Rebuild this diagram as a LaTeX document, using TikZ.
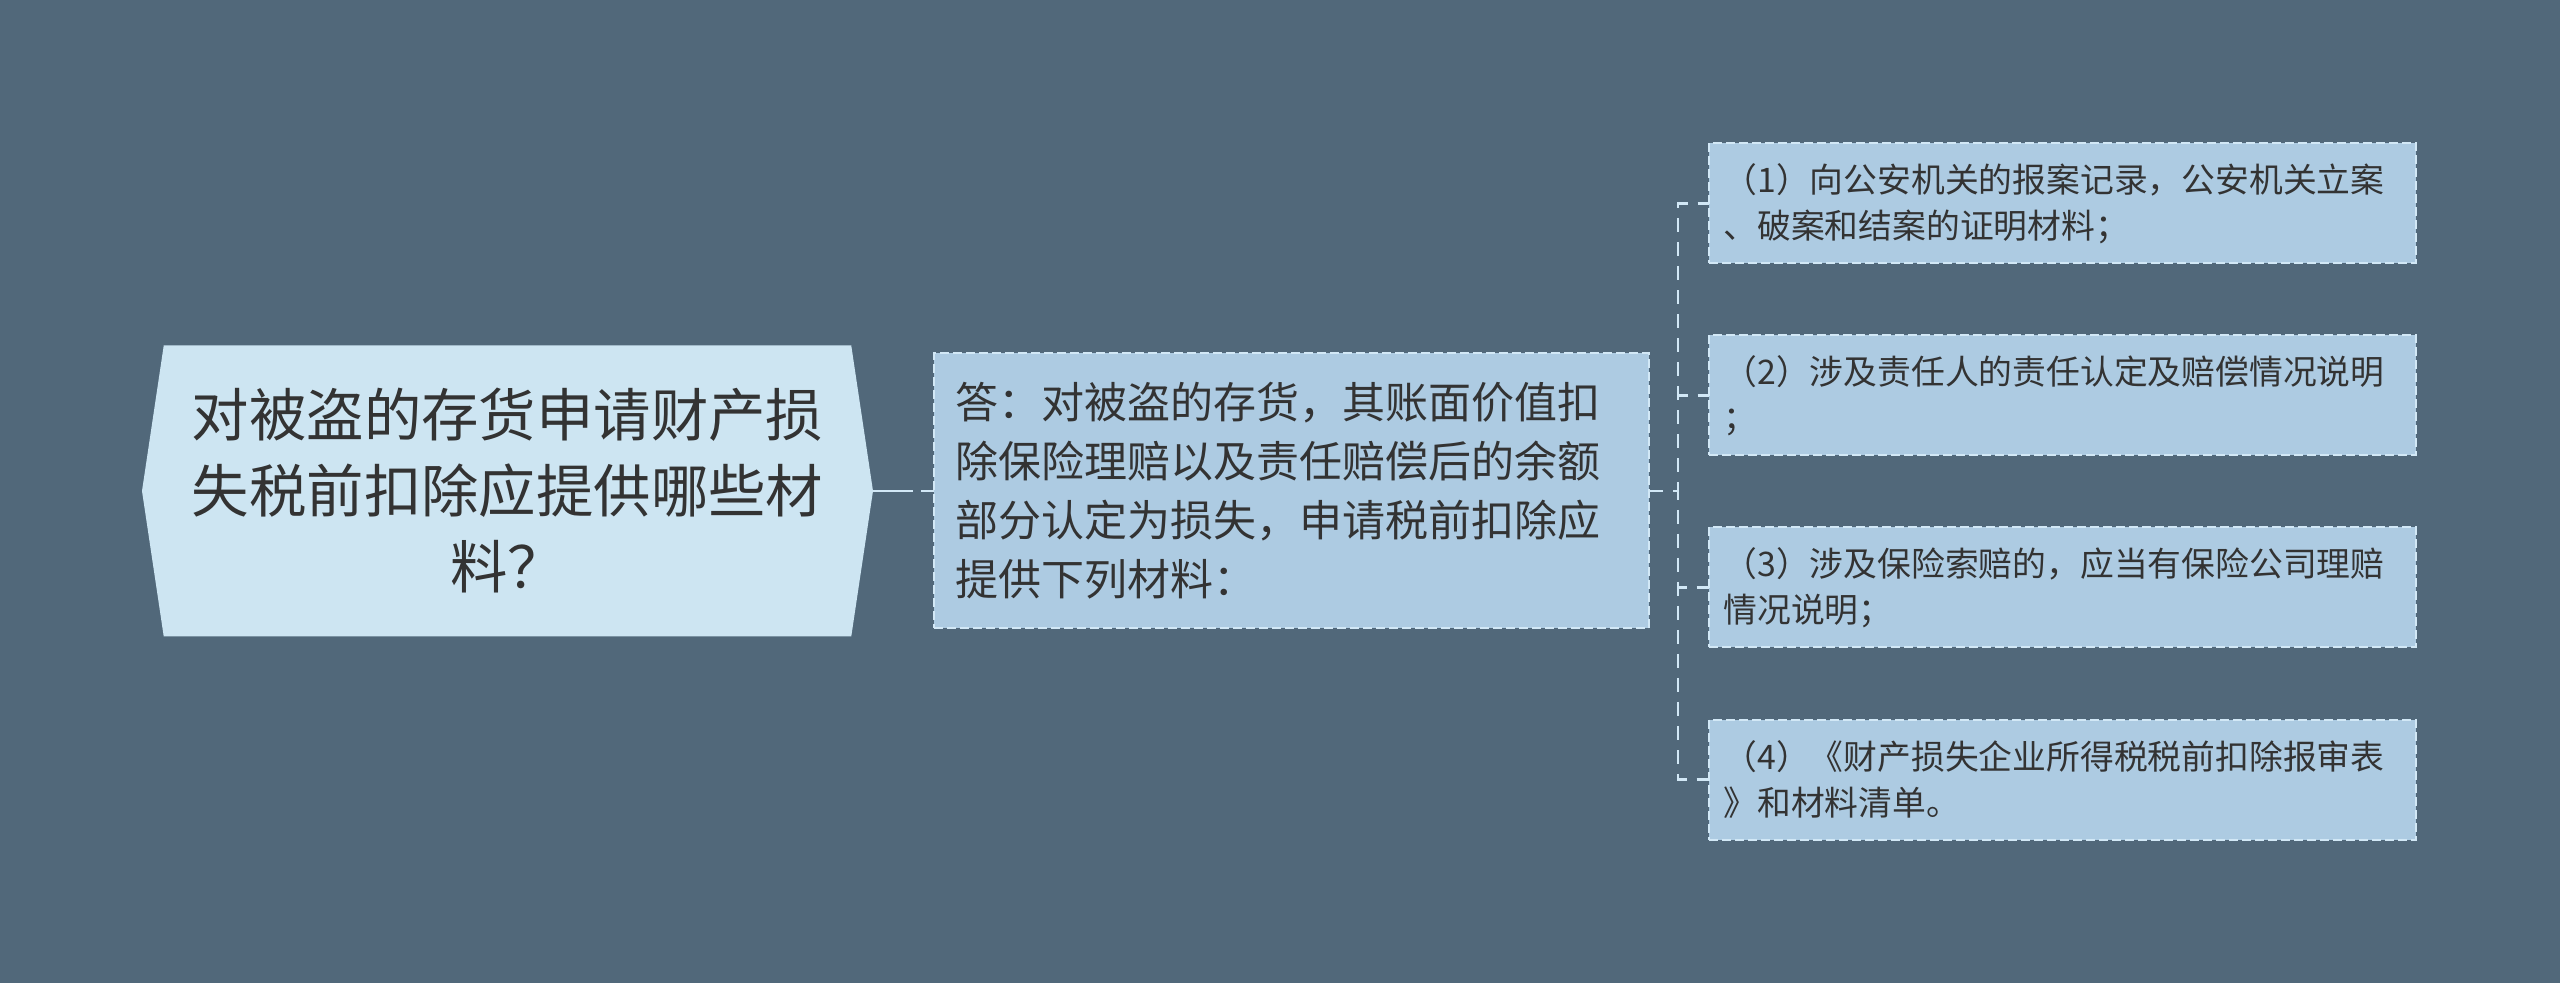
\documentclass[tikz,border=0pt]{standalone}
\usepackage{fontspec}
\newfontfamily\cjk{Noto Sans CJK SC}
\usetikzlibrary{positioning,shapes.symbols}
\definecolor{bgblue}{HTML}{51687A}
\definecolor{rootblue}{HTML}{CDE5F2}
\definecolor{boxblue}{HTML}{ADCBE2}
\definecolor{lineblue}{HTML}{D2E8F6}
\definecolor{textgray}{HTML}{333333}

\begin{document}
\begin{tikzpicture}[x=0.5pt,y=-0.5pt,
topic/.style={signal, signal to=west and east,
  signal pointer angle=163,
  fill=rootblue, minimum width=365.5pt, minimum height=145.5pt,
  inner sep=0pt, outer sep=0pt, align=center, text=textgray,
  node font=\cjk\fontsize{28.7}{38}\selectfont
},
answer/.style={fill=boxblue, draw=lineblue, line width=1pt,
  dash pattern=on 4.5pt off 2pt,
  minimum height=137.5pt, text width=336.5pt,
  inner xsep=10.5pt, inner ysep=0pt, outer sep=0pt, align=left,
  text=textgray, node font=\cjk\fontsize{21.5}{29.5}\selectfont
},
item/.style={fill=boxblue, draw=lineblue, line width=1pt,
  dash pattern=on 4.5pt off 2pt,
  minimum height=60pt, text width=339pt,
  inner xsep=7.25pt, inner ysep=0pt, outer sep=0pt, align=left,
  text=textgray, node font=\cjk\fontsize{16.9}{23}\selectfont
},
link/.style={draw=lineblue, line width=1.25pt, dash pattern=on 7pt off 5pt}
]

\fill [bgblue] (0,0) rectangle (2560,983);
\useasboundingbox (0,0) rectangle (2560,983);

\node (root) [topic] at (507.5,491) {对被盗的存货申请财产损\\失税前扣除应提供哪些材\\料？};
\node (ans) [answer, right=30.5pt of root] {答：对被盗的存货，其账面价值扣\\除保险理赔以及责任赔偿后的余额\\部分认定为损失，申请税前扣除应\\提供下列材料：};
\coordinate [right=14.5pt of ans] (bus);

\node (it1) [item] at (2062.5,203.5) {（1）向公安机关的报案记录，公安机关立案\\、破案和结案的证明材料；};
\node (it2) [item, below=36pt of it1] {（2）涉及责任人的责任认定及赔偿情况说明\\；};
\node (it3) [item, below=36pt of it2] {（3）涉及保险索赔的，应当有保险公司理赔\\情况说明；};
\node (it4) [item, below=36pt of it3] {（4）《财产损失企业所得税税前扣除报审表\\》和材料清单。};

\draw [link, dash pattern=on 20pt off 4pt] (root.east) -- (ans.west);
\draw [link] (ans.east) -- (bus) |- (it1.west);
\draw [link] (ans.east) -- (bus) |- (it2.west);
\draw [link] (ans.east) -- (bus) |- (it3.west);
\draw [link] (ans.east) -- (bus) |- (it4.west);

\end{tikzpicture}
\end{document}
